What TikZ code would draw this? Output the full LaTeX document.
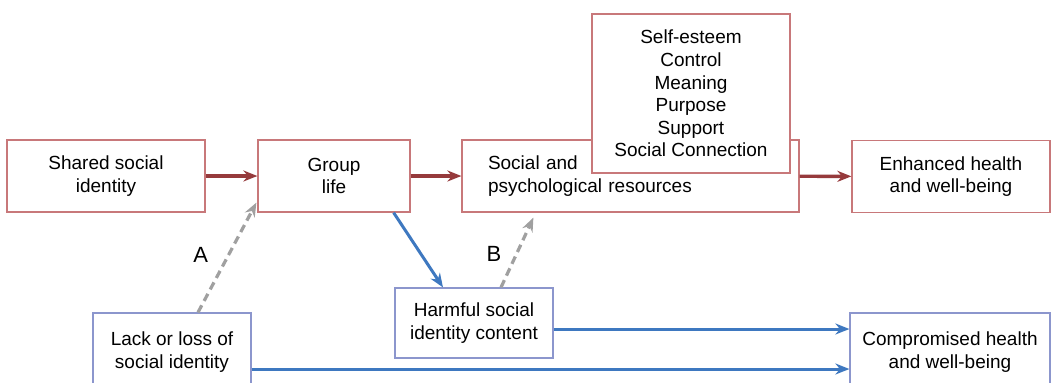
\documentclass[tikz,border=0pt]{standalone}
\usepackage{fontspec}
\setmainfont{Liberation Sans}
\usetikzlibrary{arrows.meta}
\definecolor{boxred}{RGB}{200,120,122}
\definecolor{linered}{RGB}{150,58,60}
\definecolor{boxblue}{RGB}{140,150,205}
\definecolor{lineblue}{RGB}{62,120,192}
\definecolor{linegray}{RGB}{160,160,160}
\tikzset{
  redbox/.style={draw=boxred,line width=0.6pt,fill=white,align=center,
    minimum height=36pt,inner sep=2pt},
  bluebox/.style={draw=boxblue,line width=0.6pt,fill=white,align=center,
    minimum height=35pt,inner sep=2pt},
  redarr/.style={draw=linered,line width=1.7pt,-{Stealth[length=7pt,width=5.5pt]}},
  bluearr/.style={draw=lineblue,line width=1.5pt,-{Stealth[length=7pt,width=5.5pt]}},
  grayarr/.style={draw=linegray,line width=1.6pt,dash pattern=on 4pt off 2.5pt,
    -{Stealth[length=7pt,width=5.5pt]}}
}
\begin{document}
\begin{tikzpicture}[x=0.5pt,y=-0.5pt,font=\fontsize{9.5}{11.3}\selectfont]
  \clip (0,0) rectangle (1051,382);
  \fill[white] (0,0) rectangle (1051,382);
  % top row
  \node[redbox,minimum width=99pt] (shared) at (106,176) {Shared social\\identity};
  \node[redbox,minimum width=76pt] (group) at (334,176) {Group\\life};
  \node[redbox,align=left,inner xsep=13pt,text width=142.5pt] (social) at (630.5,176)
    {Social and\\psychological resources};
  \node[redbox,minimum width=99pt,minimum height=79.5pt] (res) at (691,93.5)
    {Self-esteem\\Control\\Meaning\\Purpose\\Support\\Social Connection};
  \node[redbox,minimum width=99pt] (enh) at (951,176.5) {Enhanced health\\and well-being};
  % bottom row
  \node[bluebox,minimum width=79pt] (harm) at (474,323) {Harmful social\\identity content};
  \node[bluebox,minimum width=79pt,minimum height=39pt] (lack) at (172,352)
    {Lack or loss of\\social identity};
  \node[bluebox,minimum width=100pt,minimum height=39pt] (comp) at (950,352)
    {Compromised health\\and well-being};
  % arrows
  \draw[redarr] (shared) -- (group);
  \draw[redarr] (group) -- (social);
  \draw[redarr] (social) -- (enh);
  \draw[bluearr] ([xshift=-8.5pt]group.south east) -- ([xshift=-15.5pt]harm.north);
  \draw[bluearr] ([yshift=-3pt]harm.east) -- ([yshift=-3pt]harm.east -| comp.west);
  \draw[bluearr] ([yshift=-8.5pt]lack.east) -- ([yshift=-8.5pt]lack.east -| comp.west);
  \draw[grayarr] ([xshift=13pt]lack.north) -- ([xshift=-0.5pt,yshift=5pt]group.south west)
    node[pos=0.52,left=6pt,font=\fontsize{11}{13}\selectfont] (labA) {A};
  \draw[grayarr] ([xshift=13.5pt]harm.north) -- ([xshift=36pt,yshift=-2.5pt]social.south west)
    node[pos=0.48,left=3.5pt,font=\fontsize{11}{13}\selectfont] (labB) {B};
\end{tikzpicture}
\end{document}
